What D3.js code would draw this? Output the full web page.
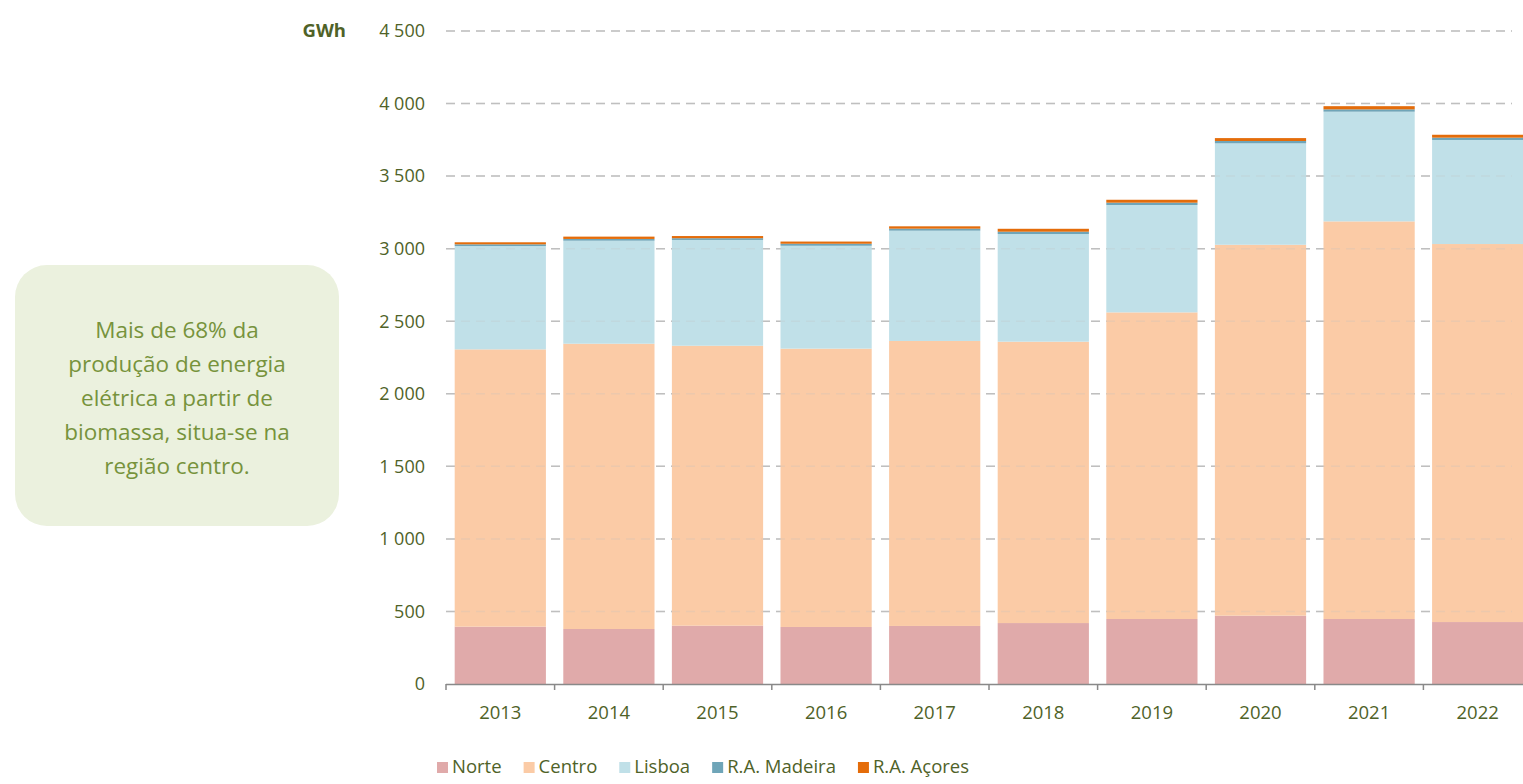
<!DOCTYPE html>
<html>
<head>
<meta charset="utf-8">
<script src="https://cdn.jsdelivr.net/npm/d3@7"></script>
<style>
  body { margin: 0; background: #fff; }
  svg { display: block; overflow: hidden; }
  text { font-family: "Open Sans", sans-serif; }
</style>
</head>
<body>
<div id="chart"></div>
<script>
// data (GWh)
const years = ['2013', '2014', '2015', '2016', '2017', '2018', '2019', '2020', '2021', '2022'];
const norte   = [395, 379, 402, 393, 400, 420, 448, 471, 448, 427];
const centro  = [1911, 1966, 1929, 1918, 1964, 1939, 2113, 2556, 2740, 2605];
const lisboa  = [712, 710, 729, 709, 760, 742, 740, 699, 756, 717];
const madeira = [12, 12, 12, 14, 14, 16, 16, 16, 16, 16];
const acores  = [14, 16, 15, 15, 16, 20, 20, 20, 22, 20];
const regions = ['Norte', 'Centro', 'Lisboa', 'R.A. Madeira', 'R.A. Açores'];
const yTicks = [0, 500, 1000, 1500, 2000, 2500, 3000, 3500, 4000, 4500];
const note = ['Mais de 68% da', 'produção de energia', 'elétrica a partir de', 'biomassa, situa-se na', 'região centro.'];

const colors = ['#E0AAAA', '#FBCBA6', '#C0E0E8', '#6FA5B8', '#E46C0A'];
const textColor = '#4F6228';

const width = 1523, height = 784;

const table = years.map((y, i) => ({
    year: y,
    'Norte': norte[i],
    'Centro': centro[i],
    'Lisboa': lisboa[i],
    'R.A. Madeira': madeira[i],
    'R.A. Açores': acores[i]
}));

const series = d3.stack().keys(regions)(table);

const svg = d3.select('#chart')
    .append('svg')
    .attr('width', width)
    .attr('height', height);

const x = d3.scaleBand()
    .domain(years)
    .range([446, 1532])
    .paddingInner(0.16)
    .paddingOuter(0.08);

const y = d3.scaleLinear()
    .domain([0, 4500])
    .range([684, 31]);

const fmt = d3.formatLocale({ decimal: ',', thousands: ' ', grouping: [3], currency: ['', '€'] }).format(',d');

// grid behind bars
svg.append('g').selectAll('line')
    .data(yTicks.filter(d => d > 0))
    .enter().append('line')
    .attr('x1', 446)
    .attr('x2', 1512)
    .attr('y1', d => y(d))
    .attr('y2', d => y(d))
    .attr('stroke', '#BFBFBF')
    .attr('stroke-width', 1.5)
    .attr('stroke-dasharray', '9,6');

// bars
svg.append('g')
    .selectAll('g')
    .data(series)
    .enter().append('g')
    .attr('fill', (d, i) => colors[i])
    .selectAll('rect')
    .data(d => d)
    .enter().append('rect')
    .attr('x', d => x(d.data.year))
    .attr('width', x.bandwidth())
    .attr('y', d => y(d[1]))
    .attr('height', d => y(d[0]) - y(d[1]));

// faint grid over bars
svg.append('g').selectAll('line')
    .data(yTicks.filter(d => d > 0))
    .enter().append('line')
    .attr('x1', 446)
    .attr('x2', 1512)
    .attr('y1', d => y(d))
    .attr('y2', d => y(d))
    .attr('stroke', '#BFBFBF')
    .attr('stroke-opacity', 0.25)
    .attr('stroke-width', 1.5)
    .attr('stroke-dasharray', '9,6');

// y labels
svg.append('g')
    .selectAll('text')
    .data(yTicks)
    .enter().append('text')
    .attr('x', 425)
    .attr('y', d => y(d))
    .attr('dy', '0.35em')
    .attr('text-anchor', 'end')
    .attr('fill', textColor)
    .attr('font-size', 18)
    .text(d => fmt(d));

svg.append('text')
    .attr('x', 346)
    .attr('y', y(4500))
    .attr('dy', '0.35em')
    .attr('text-anchor', 'end')
    .attr('fill', textColor)
    .attr('font-size', 18.5)
    .attr('font-weight', 'bold')
    .text('GWh');

// x axis
const xAxis = svg.append('g');
xAxis.append('line')
    .attr('x1', 446)
    .attr('x2', 1532)
    .attr('y1', 684.5)
    .attr('y2', 684.5)
    .attr('stroke', '#898989')
    .attr('stroke-width', 1.5);
xAxis.selectAll('.tick')
    .data(years)
    .enter().append('line')
    .attr('x1', d => x(d) - x.step() * x.paddingInner() / 2)
    .attr('x2', d => x(d) - x.step() * x.paddingInner() / 2)
    .attr('y1', 684)
    .attr('y2', 690)
    .attr('stroke', '#898989')
    .attr('stroke-width', 1.5);
xAxis.selectAll('text')
    .data(years)
    .enter().append('text')
    .attr('x', d => x(d) + x.bandwidth() / 2)
    .attr('y', 713)
    .attr('dy', '0.35em')
    .attr('text-anchor', 'middle')
    .attr('fill', textColor)
    .attr('font-size', 18.5)
    .text(d => d);

// legend
const legend = svg.append('g').attr('transform', 'translate(437,767)');
let lx = 0;
regions.forEach((r, i) => {
    const g = legend.append('g').attr('transform', `translate(${lx},0)`);
    g.append('rect')
        .attr('x', 0)
        .attr('y', -5)
        .attr('width', 11)
        .attr('height', 11)
        .attr('fill', colors[i]);
    const t = g.append('text')
        .attr('x', 15)
        .attr('y', 0)
        .attr('dy', '0.35em')
        .attr('fill', textColor)
        .attr('font-size', 18.5)
        .text(r);
    lx += 15 + t.node().getComputedTextLength() + 22;
});

// note box
const box = svg.append('g');
box.append('rect')
    .attr('x', 15)
    .attr('y', 265)
    .attr('width', 324)
    .attr('height', 261)
    .attr('rx', 32)
    .attr('fill', '#EBF1DE');
box.selectAll('text')
    .data(note)
    .enter().append('text')
    .attr('x', 177)
    .attr('y', (d, i) => 330 + i * 34)
    .attr('dy', '0.35em')
    .attr('text-anchor', 'middle')
    .attr('fill', '#77933C')
    .attr('font-size', 22.5)
    .text(d => d);
</script>
</body>
</html>
